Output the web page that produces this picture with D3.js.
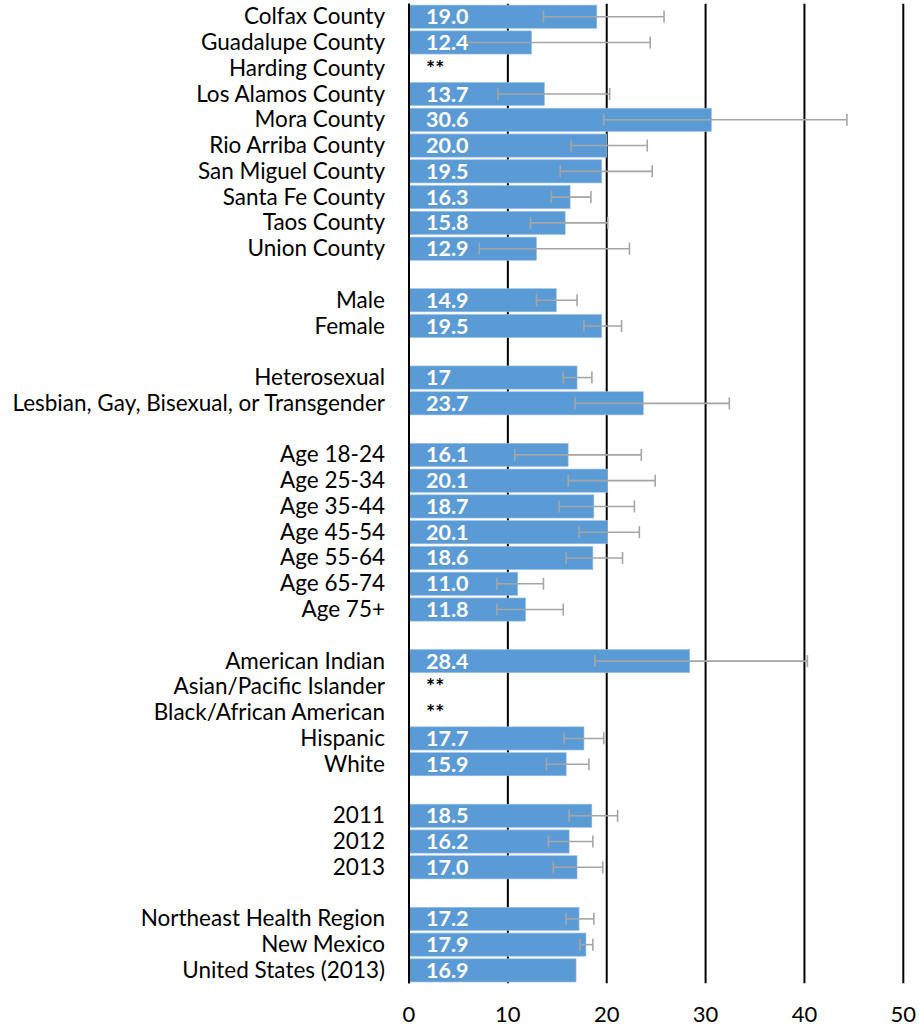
<!DOCTYPE html>
<html><head><meta charset="utf-8">
<script src="https://cdn.jsdelivr.net/npm/d3@7"></script>
<style>
html,body{margin:0;padding:0;background:#fff;}
svg{display:block;}
</style>
</head><body>
<script>
const categories = [
  "Colfax County","Guadalupe County","Harding County","Los Alamos County","Mora County",
  "Rio Arriba County","San Miguel County","Santa Fe County","Taos County","Union County",
  "",
  "Male","Female",
  "",
  "Heterosexual","Lesbian, Gay, Bisexual, or Transgender",
  "",
  "Age 18-24","Age 25-34","Age 35-44","Age 45-54","Age 55-64","Age 65-74","Age 75+",
  "",
  "American Indian","Asian/Pacific Islander","Black/African American","Hispanic","White",
  "",
  "2011","2012","2013",
  "",
  "Northeast Health Region","New Mexico","United States (2013)"
];
const values = [
  19.0,12.4,null,13.7,30.6,20.0,19.5,16.3,15.8,12.9,
  undefined,
  14.9,19.5,
  undefined,
  17,23.7,
  undefined,
  16.1,20.1,18.7,20.1,18.6,11.0,11.8,
  undefined,
  28.4,null,null,17.7,15.9,
  undefined,
  18.5,16.2,17.0,
  undefined,
  17.2,17.9,16.9
];
const valueLabels = [
  "19.0","12.4","**","13.7","30.6","20.0","19.5","16.3","15.8","12.9",
  "",
  "14.9","19.5",
  "",
  "17","23.7",
  "",
  "16.1","20.1","18.7","20.1","18.6","11.0","11.8",
  "",
  "28.4","**","**","17.7","15.9",
  "",
  "18.5","16.2","17.0",
  "",
  "17.2","17.9","16.9"
];
const lower = [
  13.6,5.8,null,9.0,19.7,16.4,15.3,14.4,12.3,7.1,
  null,
  12.9,17.7,
  null,
  15.6,16.8,
  null,
  10.7,16.1,15.2,17.2,15.9,8.9,8.9,
  null,
  18.8,null,null,15.7,13.9,
  null,
  16.2,14.1,14.6,
  null,
  15.9,17.3,null
];
const upper = [
  25.8,24.4,null,20.3,44.3,24.1,24.6,18.4,20.1,22.3,
  null,
  17.0,21.5,
  null,
  18.5,32.4,
  null,
  23.5,24.9,22.8,23.3,21.6,13.6,15.6,
  null,
  40.3,null,null,19.7,18.2,
  null,
  21.1,18.6,19.6,
  null,
  18.7,18.6,null
];
const xTicks = [0,10,20,30,40,50];

const W = 919, H = 1027;
const FONT = "Lato, 'Open Sans', sans-serif";
const svg = d3.select("body").append("svg").attr("width", W).attr("height", H);

const x = d3.scaleLinear().domain([0, 50]).range([409, 903.3]);
const idx = d3.range(categories.length);
const y = d3.scaleBand().domain(idx).range([3.8, 983.3]).paddingInner(0.1).paddingOuter(0.05);

// gridlines
svg.append("g").selectAll("line").data(xTicks).join("line")
  .attr("x1", d => x(d)).attr("x2", d => x(d))
  .attr("y1", 3.8).attr("y2", 983.3)
  .attr("stroke", "#000").attr("stroke-width", 2);

// bars
const rows = idx.filter(i => values[i] != null);
svg.append("g").selectAll("rect").data(rows).join("rect")
  .attr("x", x(0)).attr("y", i => y(i))
  .attr("width", i => x(values[i]) - x(0))
  .attr("height", y.bandwidth())
  .attr("fill", "#5B9BD5")
  .attr("stroke", "#9DC3E6").attr("stroke-width", 0.6);

// zero axis line on top
svg.append("line").attr("x1", x(0)).attr("x2", x(0)).attr("y1", 3.8).attr("y2", 983.3)
  .attr("stroke", "#000").attr("stroke-width", 2);

// error bars
const errRows = idx.filter(i => lower[i] != null && upper[i] != null);
const eg = svg.append("g").attr("stroke", "#A5A5A5").attr("stroke-width", 1.6).attr("fill", "none");
errRows.forEach(i => {
  const cy = y(i) + y.bandwidth() / 2;
  eg.append("line").attr("x1", x(lower[i])).attr("x2", x(upper[i])).attr("y1", cy).attr("y2", cy);
  eg.append("line").attr("x1", x(lower[i])).attr("x2", x(lower[i])).attr("y1", cy - 6).attr("y2", cy + 6);
  eg.append("line").attr("x1", x(upper[i])).attr("x2", x(upper[i])).attr("y1", cy - 6).attr("y2", cy + 6);
});

// value labels
svg.append("g").selectAll("text").data(idx.filter(i => valueLabels[i] !== "")).join("text")
  .attr("x", 426).attr("y", i => y(i) + y.bandwidth() / 2 - 0.5)
  .attr("dominant-baseline", "central")
  .attr("font-family", FONT).attr("font-weight", "bold")
  .attr("font-size", 21.5)
  .attr("fill", i => values[i] == null ? "#000" : "#fff")
  .text(i => valueLabels[i]);

// category labels
svg.append("g").selectAll("text").data(idx.filter(i => categories[i] !== "")).join("text")
  .attr("x", 385).attr("y", i => y(i) + y.bandwidth() / 2 - 1)
  .attr("text-anchor", "end").attr("dominant-baseline", "central")
  .attr("font-family", FONT).attr("font-size", 22.5).attr("fill", "#000")
  .text(i => categories[i]);

// x tick labels
svg.append("g").selectAll("text").data(xTicks).join("text")
  .attr("x", d => x(d)).attr("y", 1013)
  .attr("text-anchor", "middle").attr("dominant-baseline", "central")
  .attr("font-family", FONT).attr("font-size", 22).attr("fill", "#000")
  .text(d => d);
</script>
</body></html>
